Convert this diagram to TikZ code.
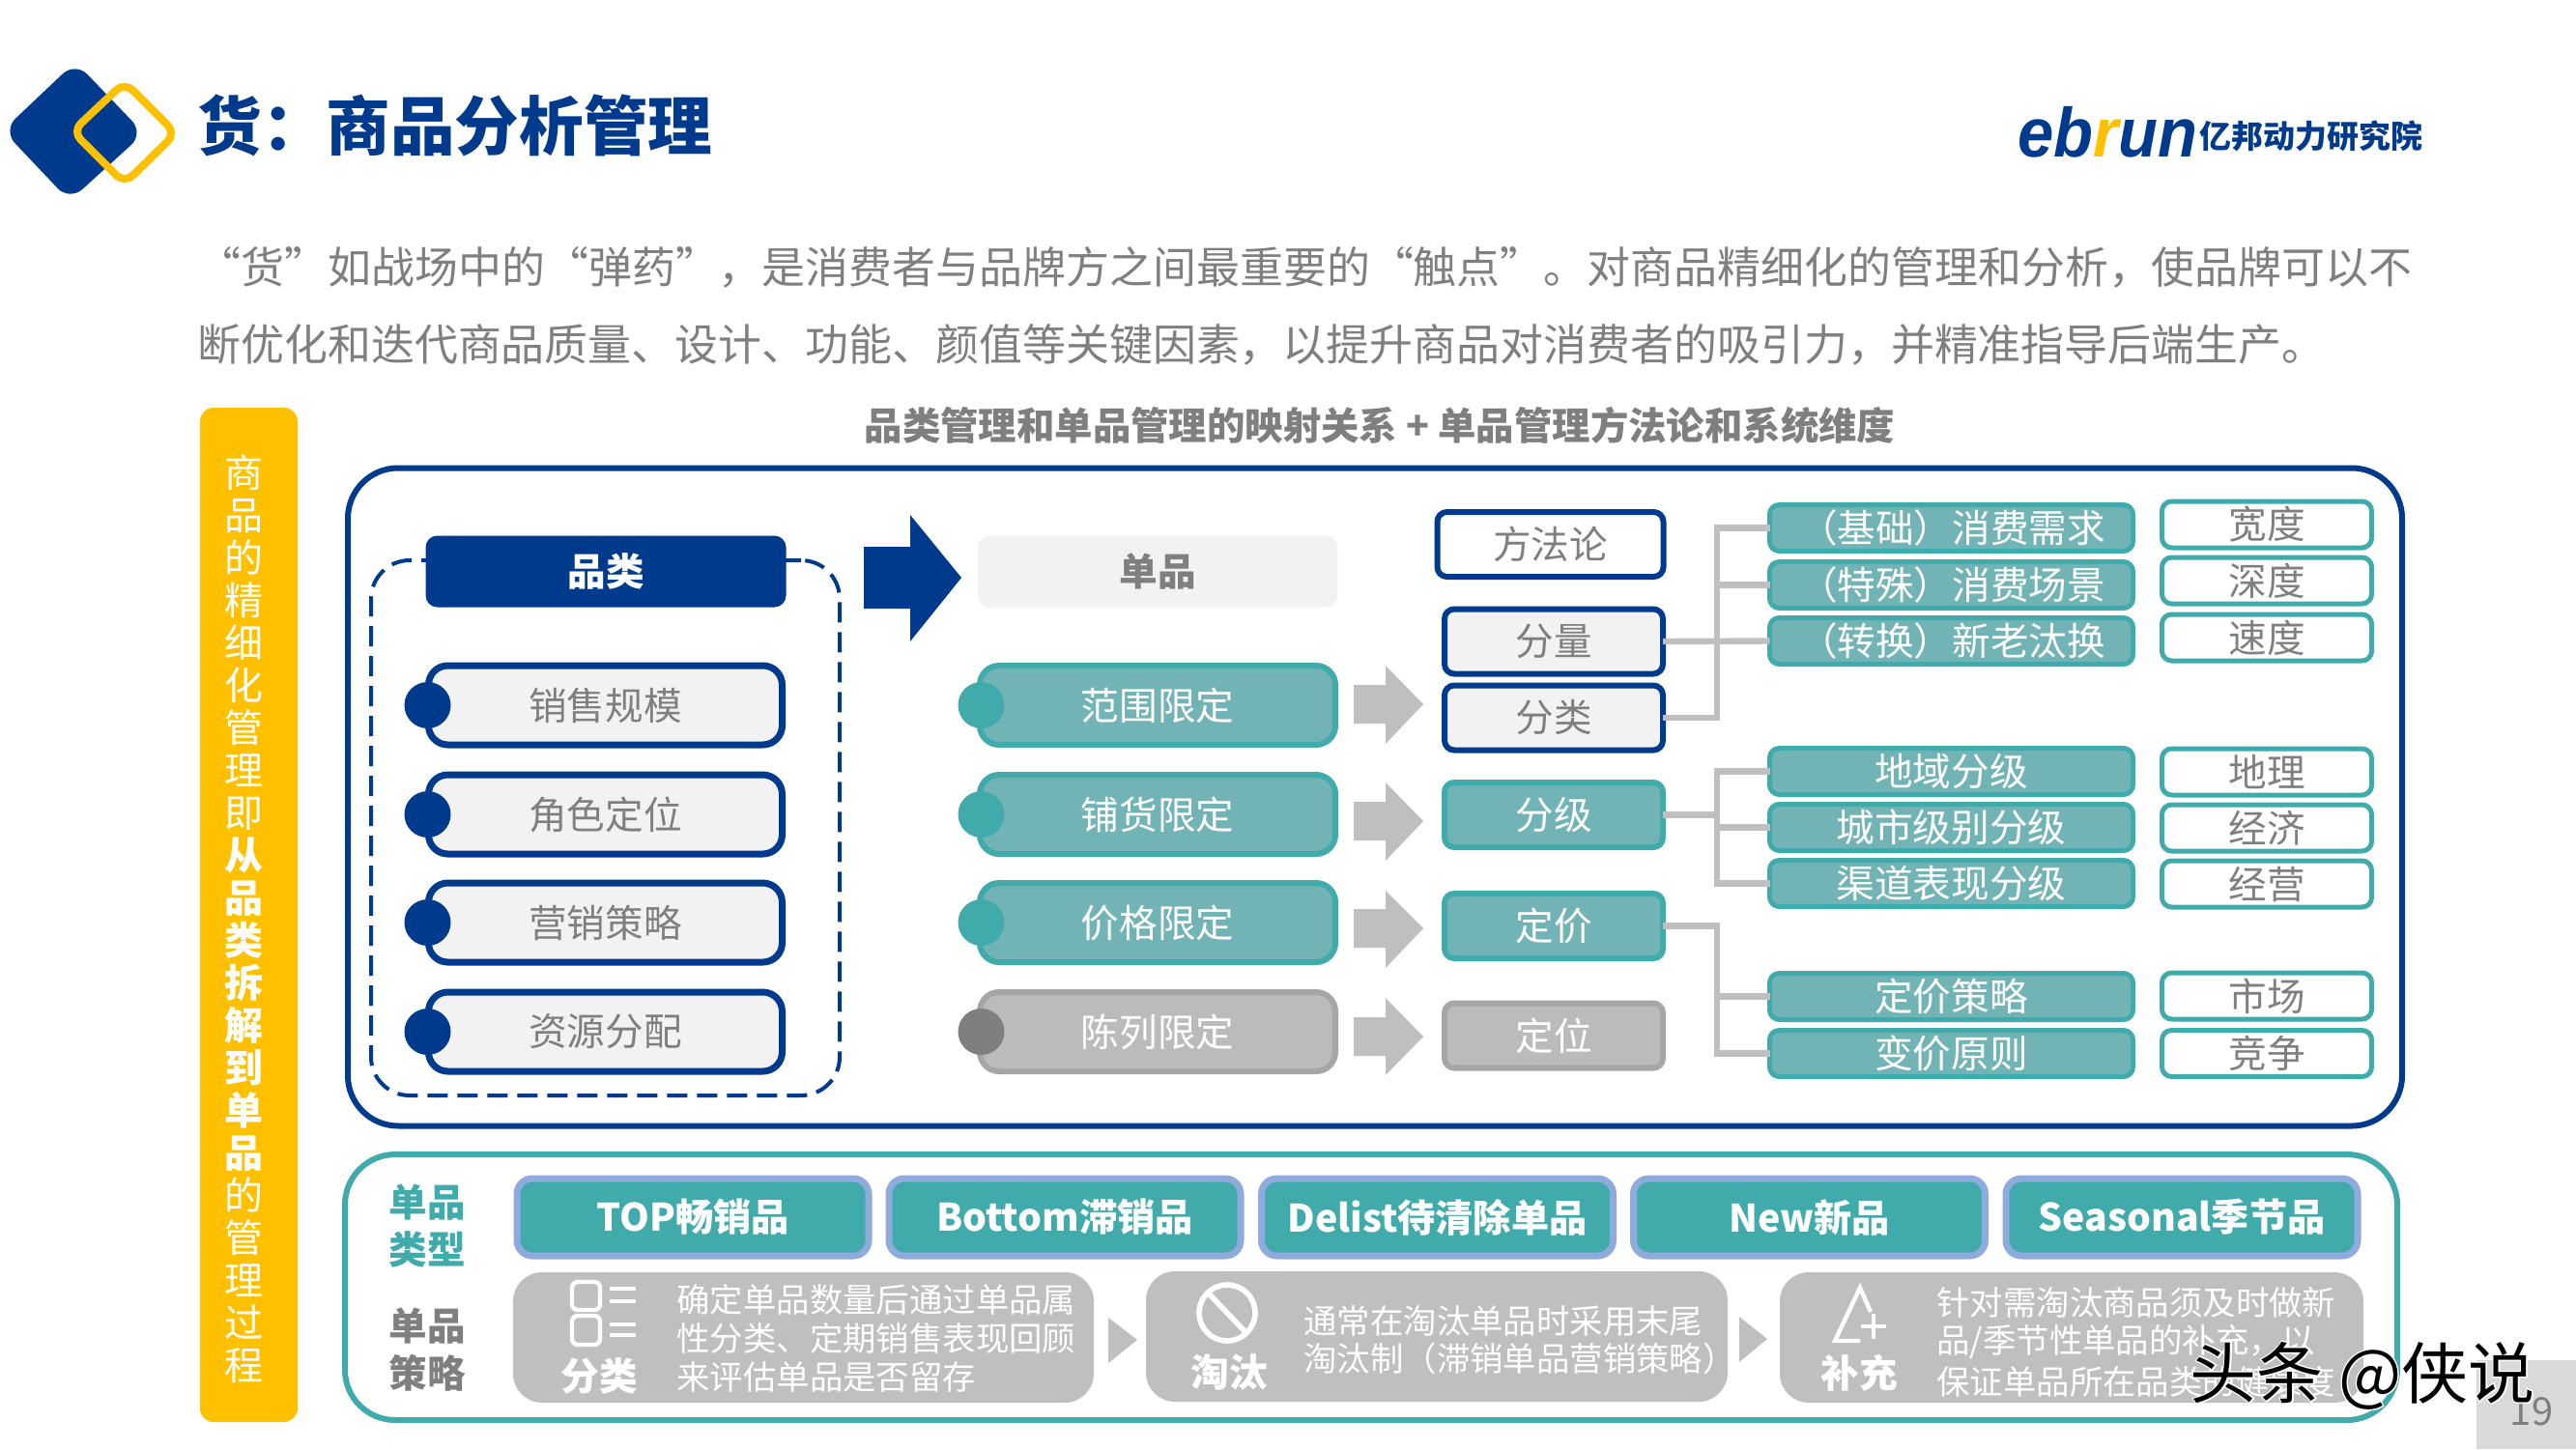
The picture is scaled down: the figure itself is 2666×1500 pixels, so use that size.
\documentclass[tikz,border=0pt]{standalone}
\usepackage{fontspec}
\usetikzlibrary{calc}
\setmainfont{Noto Sans CJK SC}
\setsansfont{Lato}
\newfontfamily\ebf{Liberation Sans}
\newcommand{\fs}[1]{\fontsize{#1}{#1}\selectfont}
\newcommand{\fwc}{^^^^ff0c}
\newcommand{\fwk}{^^^^ff1a}
\newcommand{\fwl}{^^^^ff08}
\newcommand{\fwr}{^^^^ff09}
\definecolor{navy}{HTML}{003A8C}
\definecolor{tealc}{HTML}{41ABAB}
\definecolor{tealfill}{HTML}{72B4B6}
\definecolor{gfill}{HTML}{BBBBBB}
\definecolor{gline}{HTML}{A6A6A6}
\definecolor{gtext}{HTML}{7F7F7F}
\definecolor{lightg}{HTML}{F2F2F2}
\definecolor{conn}{HTML}{BFBFBF}
\definecolor{gold}{HTML}{FFC000}
\definecolor{periw}{HTML}{8FAADC}
\tikzset{
 box/.style={rounded corners=10pt,inner sep=0pt,outer sep=0pt,font=\fs{19.8pt},align=center},
 lrow/.style={box,draw=navy,line width=3.5pt,fill=lightg,text=gtext,minimum width=183pt,minimum height=41pt},
 mrow/.style={box,draw=tealc,line width=3pt,fill=tealfill,text=white,minimum width=184pt,minimum height=41pt},
 grayrow/.style={mrow,draw=gline,fill=gfill},
 dotn/.style={circle,fill=navy,minimum size=24pt,inner sep=0pt},
 dott/.style={circle,fill=tealc,minimum size=24pt,inner sep=0pt},
 dotg/.style={circle,fill=gtext,minimum size=24pt,inner sep=0pt},
 mw/.style={box,rounded corners=5pt,minimum width=116pt,minimum height=33.5pt,line width=3pt},
 rt/.style={box,rounded corners=5pt,draw=tealc,fill=tealfill,text=white,line width=2.5pt,minimum width=188pt,minimum height=24pt},
 rw/.style={box,rounded corners=5pt,draw=tealc,fill=white,text=gtext,line width=2.5pt,minimum width=108.5pt,minimum height=24pt},
 ty/.style={box,rounded corners=8pt,draw=periw,fill=tealc,text=white,line width=3.5pt,minimum width=182pt,minimum height=40pt,font=\fs{19.6pt}\bfseries},
 gb/.style={rounded corners=15pt,fill=conn},
 gtxt/.style={anchor=west,text=white,inner sep=0pt,font=\fs{17.2pt}},
 cn/.style={draw=conn,line width=3.2pt},
 ic/.style={draw=white,line width=2.2pt},
 garrow/.style={fill=conn},
 lab/.style={inner sep=0pt,font=\fs{19.8pt}\bfseries},
}
\begin{document}
\begin{tikzpicture}[x=0.5pt,y=-0.5pt]
\useasboundingbox (0,0) rectangle (2666,1500);
\fill[white] (0,0) rectangle (2666,1500);
% logo
\fill[navy,rounded corners=9pt] (78,64)--(3,135)--(72,208)--(149,138)--cycle;
\draw[gold,line width=4pt,rounded corners=6pt] (129,85)--(75,136)--(129,190)--(182,138)--cycle;
\node[inner sep=0pt,anchor=west,text=navy,font=\fs{33.3pt}\bfseries] (title) at (204,130) {货\fwk{}商品分析管理};
% ebrun logo
\node[inner sep=0pt,anchor=base west,text=navy,font=\ebf\fs{36pt}\bfseries\itshape] (eb) at (2088,162) {\scalebox{.93}[1]{eb\textcolor{gold}{r}un}};
\node[inner sep=0pt,anchor=west,text=navy,font=\fs{16.5pt}\bfseries] (ebt) at (2276,141) {亿邦动力研究院};
% intro
\node[inner sep=0pt,anchor=east,text=gtext,font=\fs{22.47pt}] (l1) at (2497,276.5) {“货”如战场中的“弹药”\fwc{}是消费者与品牌方之间最重要的“触点”。对商品精细化的管理和分析\fwc{}使品牌可以不};
\node[inner sep=0pt,anchor=west,text=gtext,font=\fs{22.47pt}] (l2) at (204,356.5) {断优化和迭代商品质量、设计、功能、颜值等关键因素\fwc{}以提升商品对消费者的吸引力\fwc{}并精准指导后端生产。};
% side bar
\node[rounded corners=7pt,fill=gold,minimum width=50.5pt,minimum height=525pt,inner sep=0pt] (bar) at (257.5,947) {};
\node[align=center,inner sep=0pt,text=white,font=\fontsize{20pt}{22pt}\selectfont] (bart) at (252,951) {商\\品\\的\\精\\细\\化\\管\\理\\即\\\textbf{从}\\\textbf{品}\\\textbf{类}\\\textbf{拆}\\\textbf{解}\\\textbf{到}\\\textbf{单}\\\textbf{品}\\的\\管\\理\\过\\程};
\node[inner sep=0pt,text=gtext,font=\fs{19.7pt}\bfseries] (cap) at (1428,440) {品类管理和单品管理的映射关系 + 单品管理方法论和系统维度};
% frames
\node[draw=navy,line width=3pt,rounded corners=26pt,minimum width=1063pt,minimum height=340.5pt,inner sep=0pt] (main) at (1423,825) {};
\node[draw=navy,line width=2pt,dash pattern=on 10.5pt off 5pt,rounded corners=20pt,minimum width=242.5pt,minimum height=277pt,inner sep=0pt] (dash) at (626.5,857) {};
\node[draw=tealc,line width=3pt,rounded corners=26pt,minimum width=1062pt,minimum height=137.5pt,inner sep=0pt] (sub) at (1419,1332.5) {};
% header boxes
\node[box,rounded corners=6pt,fill=navy,text=white,minimum width=186.5pt,minimum height=37pt,font=\fs{19.8pt}\bfseries] (pl) at (627,591.5) {品类};
\node[box,rounded corners=6pt,fill=lightg,text=gtext,minimum width=186pt,minimum height=37pt,font=\fs{19.8pt}\bfseries] (dp) at (1198,591.5) {单品};
\fill[navy] (894,566)--(942,566)--(942,533)--(995,598)--(942,664)--(942,630)--(894,630)--cycle;
% left rows
\node[lrow] (a1) at (626.5,730) {销售规模};
\node[lrow] (a2) at (626.5,843) {角色定位};
\node[lrow] (a3) at (626.5,955) {营销策略};
\node[lrow] (a4) at (626.5,1068) {资源分配};
\node[dotn] (ad1) at (442.5,730) {};
\node[dotn] (ad2) at (442.5,843) {};
\node[dotn] (ad3) at (442.5,955) {};
\node[dotn] (ad4) at (442.5,1068) {};
% mid rows
\node[mrow] (b1) at (1198,730) {范围限定};
\node[mrow] (b2) at (1198,843) {铺货限定};
\node[mrow] (b3) at (1198,955) {价格限定};
\node[grayrow] (b4) at (1198,1068) {陈列限定};
\node[dott] (bd1) at (1015.5,730) {};
\node[dott] (bd2) at (1015.5,843) {};
\node[dott] (bd3) at (1015.5,955) {};
\node[dotg] (bd4) at (1015.5,1068) {};
% arrows
\fill[garrow] (1401,709)--(1434,709)--(1434,689)--(1473,729)--(1434,770)--(1434,749)--(1401,749)--cycle;
\fill[garrow] (1401,830)--(1434,830)--(1434,810)--(1473,850)--(1434,891)--(1434,870)--(1401,870)--cycle;
\fill[garrow] (1401,941)--(1434,941)--(1434,922)--(1473,961)--(1434,1002)--(1434,981)--(1401,981)--cycle;
\fill[garrow] (1401,1053)--(1434,1053)--(1434,1033)--(1473,1073)--(1434,1113)--(1434,1093)--(1401,1093)--cycle;
% method column
\node[mw,draw=navy,fill=white,text=gtext,minimum width=117pt] (m0) at (1604.5,563.5) {方法论};
\node[mw,draw=navy,fill=lightg,text=gtext,minimum width=113pt] (m1) at (1608,664) {分量};
\node[mw,draw=navy,fill=lightg,text=gtext,minimum width=113pt] (m2) at (1608,743) {分类};
\node[mw,draw=tealc,fill=tealfill,text=white,minimum width=113pt] (m3) at (1608,843.5) {分级};
\node[mw,draw=tealc,fill=tealfill,text=white,minimum width=113pt] (m4) at (1608,958.5) {定价};
\node[mw,draw=gline,fill=gfill,text=white,minimum width=113pt] (m5) at (1608,1072) {定位};
% right teal
\node[rt] (r1) at (2019.5,546.5) {\hspace*{1pt}\fwl{}基础\fwr{}消费需求};
\node[rt] (r2) at (2019.5,605.5) {\hspace*{1pt}\fwl{}特殊\fwr{}消费场景};
\node[rt] (r3) at (2019.5,663.5) {\hspace*{1pt}\fwl{}转换\fwr{}新老汰换};
\node[rt] (r4) at (2019.5,798.5) {地域分级};
\node[rt] (r5) at (2019.5,856.5) {城市级别分级};
\node[rt] (r6) at (2019.5,914.5) {渠道表现分级};
\node[rt] (r7) at (2019.5,1031.5) {定价策略};
\node[rt] (r8) at (2019.5,1090.5) {变价原则};
% right white
\node[rw] (w1) at (2346,543) {宽度};
\node[rw] (w2) at (2346,601) {深度};
\node[rw] (w3) at (2346,660) {速度};
\node[rw] (w4) at (2346,799) {地理};
\node[rw] (w5) at (2346,857) {经济};
\node[rw] (w6) at (2346,915) {经营};
\node[rw] (w7) at (2346,1031) {市场};
\node[rw] (w8) at (2346,1090.5) {竞争};
% connectors
\coordinate (tA1) at (1777,546.5);
\coordinate (tA2) at (1777,605.5);
\coordinate (tB1) at (1777,798.5);
\coordinate (tB2) at (1777,856.5);
\coordinate (tB3) at (1777,914.5);
\coordinate (tC1) at (1777,1031.5);
\coordinate (tC2) at (1777,1090.5);
\draw[cn] (m2.east) -| (tA1) -- (r1.west);
\draw[cn] (tA2) -- (r2.west);
\draw[cn] (m1.east) -- (r3.west);
\draw[cn] (m3.east) -- (m3.east -| tB2);
\draw[cn] (tB2) -- (r5.west);
\draw[cn] (r4.west) -- (tB1) -- (tB3) -- (r6.west);
\draw[cn] (m4.east) -| (tC2) -- (r8.west);
\draw[cn] (tC1) -- (r7.west);
% type row
\node[lab,text=tealc] (t1) at (442,1245) {单品};
\node[lab,text=tealc] (t2) at (442,1293) {类型};
\node[lab,text=gtext] (t3) at (442,1373) {单品};
\node[lab,text=gtext] (t4) at (442,1421) {策略};
\node[ty] (y1) at (717,1260) {TOP畅销品};
\node[ty] (y2) at (1102,1260) {Bottom滞销品};
\node[ty] (y3) at (1487.5,1260) {Delist待清除单品};
\node[ty] (y4) at (1872.5,1260) {New新品};
\node[ty] (y5) at (2258,1260) {Seasonal季节品};
% strategy boxes
\fill[gb] (531,1317) rectangle (1132,1452);
\fill[gb] (1186,1316) rectangle (1788,1451);
\fill[gb] (1842,1317) rectangle (2446,1452);
\fill[conn] (1147,1364)--(1177,1387)--(1147,1411)--cycle;
\fill[conn] (1800,1363)--(1829,1386)--(1800,1410)--cycle;
% icon 1
\draw[ic,rounded corners=3pt] (592,1327) rectangle (621,1356);
\draw[ic,rounded corners=3pt] (592,1362) rectangle (621,1392);
\draw[ic] (631,1334)--(658,1334) (631,1347)--(658,1347) (631,1371)--(658,1371) (631,1382)--(658,1382);
\node[inner sep=0pt,text=white,font=\fs{19.8pt}\bfseries] (i1) at (620,1424) {分类};
\node[gtxt] (g11) at (700,1345) {确定单品数量后通过单品属};
\node[gtxt] (g12) at (700,1385) {性分类、定期销售表现回顾};
\node[gtxt] (g13) at (700,1425) {来评估单品是否留存};
% icon 2
\draw[ic,line width=2.8pt] (1270,1359) circle (29);
\draw[ic,line width=2.8pt] (1250,1338)--(1290,1380);
\node[inner sep=0pt,text=white,font=\fs{19.8pt}\bfseries] (i2) at (1272,1420) {淘汰};
\node[gtxt] (g21) at (1349,1367) {通常在淘汰单品时采用末尾};
\node[gtxt] (g22) at (1349,1406) {淘汰制\fwl{}滞销单品营销策略\fwr{}};
% icon 3
\draw[ic] (1936,1358)--(1925,1333)--(1899,1388)--(1925,1388);
\draw[ic] (1939,1360)--(1939,1386) (1926,1373)--(1952,1373);
\node[inner sep=0pt,text=white,font=\fs{19.8pt}\bfseries] (i3) at (1924,1421) {补充};
\node[gtxt] (g31) at (2004,1348) {针对需淘汰商品须及时做新};
\node[gtxt] (g32) at (2004,1389) {品/季节性单品的补充\fwc{}以};
\node[gtxt] (g33) at (2004,1430) {保证单品所在品类的健康度};
% page number
\fill[black!15] (2563,1408) rectangle (2666,1500);
\node[inner sep=0pt,text=gtext,font=\fs{20pt}] (pg) at (2620,1461) {19};
% watermark
\node[inner sep=0pt,text=white,font=\fs{34.5pt}\addfontfeature{FakeBold=4}] (wm0) at (2445,1424) {头条 @侠说};
\node[inner sep=0pt,text=black,font=\fs{34.5pt}] (wm) at (2445,1424) {头条 @侠说};
\end{tikzpicture}
\end{document}
